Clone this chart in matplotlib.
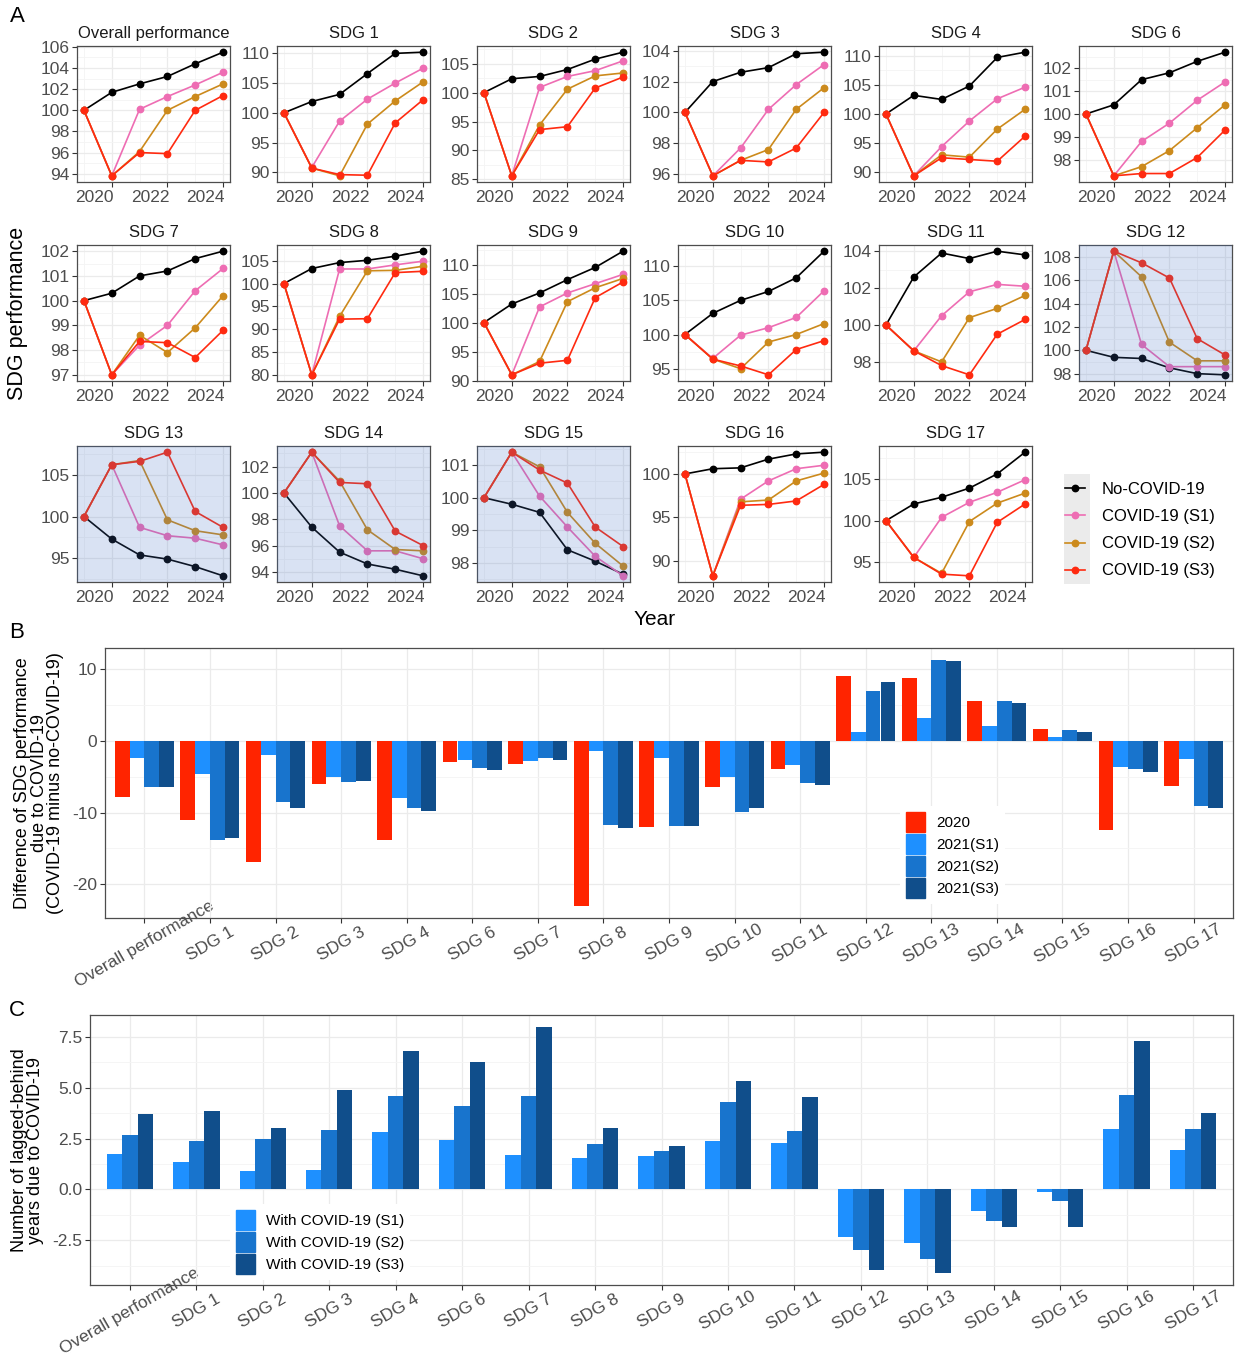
import matplotlib
matplotlib.use("Agg")
import matplotlib.pyplot as plt
from matplotlib.lines import Line2D
from matplotlib.patches import Patch, Rectangle
from matplotlib.ticker import MultipleLocator, FormatStrFormatter
import matplotlib.transforms as mtransforms
import numpy as np

plt.rcParams["font.family"] = ["Liberation Sans", "DejaVu Sans"]
plt.rcParams["axes.unicode_minus"] = False

W, H = 1242, 1365

# ---- panel A: SDG performance trajectories (index, 2019 = 100)
years = [2019, 2020, 2021, 2022, 2023, 2024]
panel_titles = ["Overall performance", "SDG 1", "SDG 2", "SDG 3", "SDG 4", "SDG 6",
                "SDG 7", "SDG 8", "SDG 9", "SDG 10", "SDG 11", "SDG 12",
                "SDG 13", "SDG 14", "SDG 15", "SDG 16", "SDG 17"]
y_steps = [2, 5, 5, 2, 5, 1, 1, 5, 5, 5, 2, 2, 5, 2, 1, 5, 5]
shaded = ["SDG 12", "SDG 13", "SDG 14", "SDG 15"]

no_covid = [
    [100, 101.7, 102.5, 103.2, 104.4, 105.5],
    [100, 101.9, 103.1, 106.6, 110.0, 110.2],
    [100, 102.4, 102.8, 104.0, 105.8, 107.0],
    [100, 102.0, 102.6, 102.9, 103.8, 103.9],
    [100, 103.2, 102.5, 104.8, 109.7, 110.6],
    [100, 100.4, 101.5, 101.8, 102.3, 102.7],
    [100, 100.3, 101.0, 101.2, 101.7, 102.0],
    [100, 103.3, 104.6, 105.1, 106.0, 107.1],
    [100, 103.2, 105.1, 107.4, 109.5, 112.3],
    [100, 103.1, 105.0, 106.3, 108.3, 112.2],
    [100, 102.6, 103.9, 103.6, 104.0, 103.8],
    [100, 99.4, 99.3, 98.5, 98.0, 97.9],
    [100, 97.3, 95.4, 94.9, 94.0, 92.9],
    [100, 97.4, 95.5, 94.6, 94.2, 93.7],
    [100, 99.8, 99.55, 98.4, 98.05, 97.65],
    [100, 100.6, 100.7, 101.7, 102.3, 102.5],
    [100, 102.0, 102.8, 103.9, 105.6, 108.2],
]
covid_s1 = [
    [100, 93.8, 100.1, 101.3, 102.4, 103.6],
    [100, 90.8, 98.6, 102.3, 105.0, 107.5],
    [100, 85.6, 100.9, 102.8, 103.8, 105.5],
    [100, 95.9, 97.7, 100.2, 101.8, 103.1],
    [100, 89.4, 94.4, 98.8, 102.6, 104.6],
    [100, 97.3, 98.8, 99.6, 100.6, 101.4],
    [100, 97.0, 98.2, 99.0, 100.4, 101.3],
    [100, 80.0, 103.2, 103.2, 104.1, 104.9],
    [100, 91.0, 102.7, 105.1, 106.7, 108.3],
    [100, 96.5, 99.9, 101.0, 102.5, 106.4],
    [100, 98.6, 100.5, 101.8, 102.2, 102.1],
    [100, 108.5, 100.5, 98.6, 98.6, 98.6],
    [100, 106.2, 98.7, 97.7, 97.4, 96.6],
    [100, 103.1, 97.5, 95.6, 95.6, 95.0],
    [100, 101.4, 100.05, 99.1, 98.2, 97.6],
    [100, 88.3, 97.1, 99.2, 100.6, 101.0],
    [100, 95.6, 100.4, 102.2, 103.4, 104.9],
]
covid_s2 = [
    [100, 93.8, 96.1, 100.0, 101.3, 102.5],
    [100, 90.7, 89.4, 98.1, 102.0, 105.2],
    [100, 85.6, 94.4, 100.6, 102.9, 103.4],
    [100, 95.9, 96.9, 97.6, 100.2, 101.6],
    [100, 89.4, 93.0, 92.6, 97.4, 100.8],
    [100, 97.3, 97.7, 98.4, 99.4, 100.4],
    [100, 97.0, 98.6, 97.9, 98.9, 100.2],
    [100, 80.0, 92.8, 102.8, 102.9, 103.8],
    [100, 91.0, 93.3, 103.6, 106.0, 107.6],
    [100, 96.4, 95.0, 98.9, 100.0, 101.6],
    [100, 98.6, 98.0, 100.4, 100.9, 101.6],
    [100, 108.5, 106.3, 100.7, 99.1, 99.1],
    [100, 106.2, 106.7, 99.6, 98.3, 97.8],
    [100, 103.1, 100.9, 97.2, 95.7, 95.6],
    [100, 101.4, 100.95, 99.55, 98.6, 97.9],
    [100, 88.3, 96.8, 97.0, 99.2, 100.1],
    [100, 95.6, 93.7, 99.9, 102.1, 103.3],
]
covid_s3 = [
    [100, 93.8, 96.0, 95.9, 100.0, 101.4],
    [100, 90.7, 89.6, 89.5, 98.3, 102.2],
    [100, 85.6, 93.6, 94.1, 100.8, 102.7],
    [100, 95.9, 96.9, 96.8, 97.7, 100.0],
    [100, 89.4, 92.5, 92.2, 91.9, 96.2],
    [100, 97.3, 97.4, 97.4, 98.1, 99.3],
    [100, 97.0, 98.35, 98.3, 97.7, 98.8],
    [100, 80.0, 92.2, 92.3, 102.4, 102.7],
    [100, 91.0, 93.0, 93.5, 104.3, 107.0],
    [100, 96.4, 95.4, 94.1, 97.8, 99.1],
    [100, 98.6, 97.8, 97.3, 99.5, 100.3],
    [100, 108.5, 107.5, 106.2, 101.0, 99.6],
    [100, 106.2, 106.6, 107.7, 100.6, 98.7],
    [100, 103.1, 100.8, 100.7, 97.1, 96.0],
    [100, 101.4, 100.85, 100.45, 99.1, 98.5],
    [100, 88.3, 96.4, 96.5, 96.9, 98.8],
    [100, 95.6, 93.6, 93.4, 99.8, 102.0],
]

# ---- panel B: difference of SDG performance (COVID-19 minus no-COVID-19)
categories = panel_titles
diff_2020 = [-7.8, -11.0, -16.9, -6.0, -13.8, -3.0, -3.2, -23.0, -12.0,
             -6.5, -3.9, 9.0, 8.8, 5.6, 1.6, -12.4, -6.3]
diff_2021_s1 = [-2.4, -4.6, -2.0, -5.0, -8.0, -2.7, -2.8, -1.4, -2.4,
                -5.1, -3.3, 1.3, 3.2, 2.1, 0.5, -3.6, -2.5]
diff_2021_s2 = [-6.4, -13.8, -8.5, -5.7, -9.4, -3.8, -2.4, -11.7, -11.9,
                -9.9, -5.9, 6.9, 11.25, 5.5, 1.5, -3.9, -9.1]
diff_2021_s3 = [-6.4, -13.5, -9.3, -5.6, -9.8, -4.0, -2.7, -12.2, -11.9,
                -9.4, -6.1, 8.2, 11.1, 5.3, 1.3, -4.3, -9.3]

# ---- panel C: number of lagged-behind years
lag_s1 = [1.73, 1.34, 0.93, 0.98, 2.82, 2.41, 1.67, 1.57, 1.64,
          2.36, 2.26, -2.34, -2.62, -1.08, -0.11, 2.95, 1.96]
lag_s2 = [2.70, 2.40, 2.47, 2.93, 4.57, 4.12, 4.57, 2.24, 1.91,
          4.30, 2.88, -2.95, -3.40, -1.54, -0.57, 4.63, 2.95]
lag_s3 = [3.72, 3.88, 3.00, 4.91, 6.78, 6.27, 7.97, 3.00, 2.14,
          5.32, 4.52, -3.98, -4.09, -1.82, -1.82, 7.30, 3.78]

line_colors = ["#000000", "#EE6DB3", "#CC8A1C", "#FF2A10"]
line_labels = ["No-COVID-19", "COVID-19 (S1)", "COVID-19 (S2)", "COVID-19 (S3)"]
bar_colors = ["#FF2400", "#1E90FF", "#1874CD", "#104E8B"]

grid_major = "#EBEBEB"
grid_minor = "#F4F4F4"
frame_col = "#4D4D4D"
tick_col = "#4D4D4D"


def px_rect(x0, y0, x1, y1):
    return [x0 / W, 1 - y1 / H, (x1 - x0) / W, (y1 - y0) / H]


def style_axes(ax, fs):
    for s in ax.spines.values():
        s.set_color(frame_col)
        s.set_linewidth(0.9)
    ax.tick_params(axis="both", which="major", length=3.5, width=0.8, color="#333333",
                   labelcolor=tick_col, labelsize=fs, pad=2)
    ax.tick_params(axis="both", which="minor", length=0)
    ax.grid(True, which="major", color=grid_major, lw=0.9, zorder=0)
    ax.grid(True, which="minor", color=grid_minor, lw=0.6, zorder=0)
    ax.set_axisbelow(True)


def bar_legend(ax, colors, labels, left_px, top_px):
    ax.legend([Patch(color=c) for c in colors], labels,
              loc="upper left", bbox_to_anchor=(left_px / W, 1 - top_px / H),
              bbox_transform=fig.transFigure, fontsize=11, frameon=True,
              fancybox=False, framealpha=1, edgecolor="none",
              handlelength=1.25, handleheight=1.63, handletextpad=0.7,
              labelspacing=0.13, borderpad=0.4, borderaxespad=0)


fig = plt.figure(figsize=(W / 100, H / 100), dpi=100)

col_left = [77, 277, 477, 678, 879, 1079]
row_top = [46, 245, 446]
pw, ph = 153, 136
# year labels sit just left of their tick
year_shift = mtransforms.ScaledTranslation(2 / 100, 0, fig.dpi_scale_trans)

for i, title in enumerate(panel_titles):
    r, c = divmod(i, 6)
    x0, y0 = col_left[c], row_top[r]
    ax = fig.add_axes(px_rect(x0, y0, x0 + pw, y0 + ph))
    series = [no_covid[i], covid_s1[i], covid_s2[i], covid_s3[i]]
    for vals, col in zip(series, line_colors):
        ax.plot(years, vals, color=col, lw=1.2, marker="o", ms=4.6, zorder=3)
    lo = min(min(v) for v in series)
    hi = max(max(v) for v in series)
    pad = 0.05 * (hi - lo)
    ax.set_ylim(lo - pad, hi + pad)
    ax.set_xlim(2019 - 0.25, 2024 + 0.25)
    ax.set_xticks(years[1::2])
    ax.xaxis.set_minor_locator(MultipleLocator(1))
    ax.yaxis.set_major_locator(MultipleLocator(y_steps[i]))
    ax.yaxis.set_minor_locator(MultipleLocator(y_steps[i] / 2))
    ax.yaxis.set_major_formatter(FormatStrFormatter("%d"))
    style_axes(ax, 12.5)
    for lbl in ax.get_xticklabels():
        lbl.set_ha("right")
        lbl.set_transform(lbl.get_transform() + year_shift)
    ax.set_title(title, fontsize=12, color="#1A1A1A", pad=6)
    if title in shaded:
        ax.add_patch(Rectangle((0, 0), 1, 1, transform=ax.transAxes,
                               facecolor="#4472C4", alpha=0.2, edgecolor="none", zorder=5))

# legend of panel A with grey key column
fig.patches.append(Rectangle((1064 / W, 1 - 584 / H), 26 / W, 110 / H,
                             transform=fig.transFigure, facecolor="#EBEBEB",
                             edgecolor="none", zorder=0))
handles = [Line2D([], [], color=c, lw=1.2, marker="o", ms=4.6) for c in line_colors]
fig.legend(handles, line_labels, loc="upper left", bbox_to_anchor=(1060 / W, 1 - 477 / H),
           frameon=False, fontsize=12, handlelength=1.2, handletextpad=1.0,
           labelspacing=0.73, borderaxespad=0, borderpad=0.3)

fig.text(18 / W, 1 - 313 / H, "SDG performance", rotation=90, fontsize=15.5,
         ha="center", va="center")
fig.text(655 / W, 1 - 620 / H, "Year", fontsize=15, ha="center", va="center")

# ---- panel B
x = np.arange(len(categories))
axb = fig.add_axes(px_rect(105, 648, 1233, 918))
bw = 0.9 / 4
for k, (vals, col) in enumerate(zip([diff_2020, diff_2021_s1, diff_2021_s2, diff_2021_s3],
                                    bar_colors)):
    axb.bar(x + (k - 1.5) * bw, vals, width=bw, color=col, edgecolor="none", zorder=2)
lo, hi = min(diff_2020 + diff_2021_s2), max(diff_2021_s2 + diff_2021_s3)
pad = 0.05 * (hi - lo)
axb.set_ylim(lo - pad, hi + pad)
axb.set_xlim(-0.6, len(categories) - 0.4)
axb.set_xticks(x)
axb.set_xticklabels(categories, rotation=30, ha="center", va="center",
                    rotation_mode="anchor")
axb.yaxis.set_major_locator(MultipleLocator(10))
axb.yaxis.set_minor_locator(MultipleLocator(5))
axb.xaxis.set_minor_locator(MultipleLocator(0.5))
style_axes(axb, 12.5)
axb.tick_params(axis="x", which="major", pad=15)
axb.grid(False, which="minor", axis="x")
axb.set_ylabel("Difference of SDG performance\ndue to COVID-19\n(COVID-19 minus no-COVID-19)",
               fontsize=13, linespacing=0.95, labelpad=6)
bar_legend(axb, bar_colors, ["2020", "2021(S1)", "2021(S2)", "2021(S3)"], 900, 806)

# ---- panel C
axc = fig.add_axes(px_rect(90, 1015, 1233, 1285))
bw = 0.7 / 3
for k, (vals, col) in enumerate(zip([lag_s1, lag_s2, lag_s3], bar_colors[1:])):
    axc.bar(x + (k - 1) * bw, vals, width=bw, color=col, edgecolor="none", zorder=2)
lo = min(lag_s1 + lag_s2 + lag_s3)
hi = max(lag_s1 + lag_s2 + lag_s3)
pad = 0.05 * (hi - lo)
axc.set_ylim(lo - pad, hi + pad)
axc.set_xlim(-0.6, len(categories) - 0.4)
axc.set_xticks(x)
axc.set_xticklabels(categories, rotation=30, ha="center", va="center",
                    rotation_mode="anchor")
axc.yaxis.set_major_locator(MultipleLocator(2.5))
axc.yaxis.set_minor_locator(MultipleLocator(1.25))
axc.yaxis.set_major_formatter(FormatStrFormatter("%.1f"))
style_axes(axc, 12.5)
axc.tick_params(axis="x", which="major", pad=15)
axc.grid(False, which="minor", axis="x")
axc.set_ylabel("Number of lagged-behind\nyears due to COVID-19", fontsize=13,
               linespacing=0.95, labelpad=6)
bar_legend(axc, bar_colors[1:],
           ["With COVID-19 (S1)", "With COVID-19 (S2)", "With COVID-19 (S3)"], 230, 1204)

for lab, ypx in [("A", 17), ("B", 632), ("C", 1010)]:
    fig.text(17 / W, 1 - ypx / H, lab, fontsize=16, ha="center", va="center")

fig.savefig("out.png", dpi=100)
